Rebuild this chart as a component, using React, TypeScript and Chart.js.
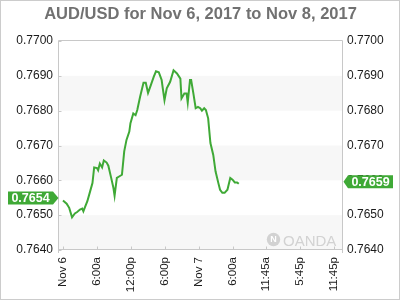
import React, { useEffect, useRef } from "react";
import { Chart, registerables } from "chart.js";

Chart.register(...registerables);

const titleText = "AUD/USD for Nov 6, 2017 to Nov 8, 2017";

// hours since Nov 6 00:00
const hours = [
  0, 0.65, 1.1, 1.6, 2.1, 2.5, 3.0, 3.4, 3.6, 3.9,
  4.3, 4.8, 5.2, 5.5, 6.0, 6.2, 6.5, 6.9, 7.2, 7.7,
  8.0, 8.5, 8.9, 9.1, 9.5, 9.9, 10.4, 10.8, 11.2, 11.7,
  11.9, 12.4, 12.8, 13.1, 13.6, 14.2, 14.6, 15.0, 15.4, 16.0,
  16.4, 16.9, 17.4, 17.6, 17.9, 18.3, 18.9, 19.5, 20.1, 20.7,
  20.9, 21.4, 21.8, 22.0, 22.4, 22.6, 23.0, 23.4, 23.8, 24.2,
  24.5, 24.9, 25.2, 25.6, 26.0, 26.5, 26.9, 27.4, 27.7, 28.1,
  28.5, 29.0, 29.5, 29.9, 30.3, 30.7, 31.0,
];

const rates = [
  0.76542, 0.76533, 0.76521, 0.76494, 0.76505, 0.76509, 0.76516, 0.76519, 0.76511, 0.76524,
  0.7654, 0.76569, 0.76592, 0.76637, 0.76635, 0.76629, 0.76648, 0.76637, 0.76657, 0.76651,
  0.76642, 0.76607, 0.76578, 0.76556, 0.76607, 0.76611, 0.76616, 0.76683, 0.76716, 0.7674,
  0.76764, 0.76792, 0.76787, 0.76802, 0.7684, 0.7688, 0.7688, 0.76851, 0.76869, 0.76897,
  0.76913, 0.7691, 0.76888, 0.76864, 0.7683, 0.76864, 0.76883, 0.76916, 0.76907, 0.76892,
  0.76835, 0.76849, 0.76849, 0.76823, 0.76888, 0.76888, 0.76849, 0.76807, 0.76811, 0.76807,
  0.768, 0.76807, 0.76802, 0.76778, 0.76707, 0.76673, 0.76626, 0.76592, 0.76573, 0.76564,
  0.76564, 0.76573, 0.76607, 0.76602, 0.76594, 0.76594, 0.7659,
];

const xTickHours = [0, 6, 12, 18, 24, 30, 35.75, 41.75, 47.75];
const xTickLabels = ["Nov 6", "6:00a", "12:00p", "6:00p", "Nov 7", "6:00a", "11:45a", "5:45p", "11:45p"];
const yTicks = [0.764, 0.765, 0.766, 0.767, 0.768, 0.769, 0.77];
const bandLows = [0.768, 0.766, 0.764];
const bandStep = 0.001;
const xMin = -0.7;
const xMax = 49.2;
const yMin = 0.764;
const yMax = 0.77;

const FONT = '"Liberation Sans", Arial, sans-serif';
const GREEN = "#3fa936";

function drawTag(ctx: CanvasRenderingContext2D, text: string, boxL: number, boxR: number, tipX: number, cy: number) {
  const h = 13;
  ctx.fillStyle = GREEN;
  ctx.beginPath();
  if (tipX > boxR) {
    ctx.moveTo(boxL, cy - h / 2);
    ctx.lineTo(boxR, cy - h / 2);
    ctx.lineTo(tipX, cy);
    ctx.lineTo(boxR, cy + h / 2);
    ctx.lineTo(boxL, cy + h / 2);
  } else {
    ctx.moveTo(boxR, cy - h / 2);
    ctx.lineTo(boxL, cy - h / 2);
    ctx.lineTo(tipX, cy);
    ctx.lineTo(boxL, cy + h / 2);
    ctx.lineTo(boxR, cy + h / 2);
  }
  ctx.closePath();
  ctx.fill();
  ctx.fillStyle = "#ffffff";
  ctx.font = `bold 12.5px ${FONT}`;
  ctx.textAlign = "center";
  ctx.textBaseline = "middle";
  ctx.fillText(text, (boxL + boxR) / 2, cy + 0.5);
}

const decor = {
  id: "decor",
  beforeDatasetsDraw(chart: any) {
    const { ctx, chartArea: a, scales } = chart;
    const y = scales.y;
    const x = scales.x;
    ctx.save();
    ctx.fillStyle = "#f7f7f7";
    bandLows.forEach((lo) => {
      const t = y.getPixelForValue(lo + bandStep);
      const b = y.getPixelForValue(lo);
      ctx.fillRect(a.left, t, a.right - a.left, b - t);
    });
    ctx.strokeStyle = "#c8c8c8";
    ctx.lineWidth = 1;
    ctx.beginPath();
    ctx.moveTo(a.left - 0.5, a.top - 0.5);
    ctx.lineTo(a.right + 0.5, a.top - 0.5);
    ctx.moveTo(a.left - 0.5, a.top - 0.5);
    ctx.lineTo(a.left - 0.5, a.bottom + 3);
    ctx.moveTo(a.right + 0.5, a.top - 0.5);
    ctx.lineTo(a.right + 0.5, a.bottom + 3);
    ctx.moveTo(a.left - 0.5, a.bottom - 0.5);
    ctx.lineTo(a.right + 0.5, a.bottom - 0.5);
    xTickHours.forEach((v) => {
      const px = Math.round(x.getPixelForValue(v)) + 0.5;
      ctx.moveTo(px, a.bottom - 0.5);
      ctx.lineTo(px, a.bottom - 3.5);
    });
    yTicks.forEach((v) => {
      const py = Math.round(y.getPixelForValue(v)) + 0.5;
      ctx.moveTo(a.left - 0.5, py);
      ctx.lineTo(a.left + 2.5, py);
    });
    ctx.stroke();

    // watermark
    ctx.fillStyle = "#d2d2d2";
    ctx.beginPath();
    ctx.arc(273.5, 239.5, 6.7, 0, Math.PI * 2);
    ctx.fill();
    ctx.fillStyle = "#ffffff";
    ctx.font = `bold 9px ${FONT}`;
    ctx.textAlign = "center";
    ctx.textBaseline = "middle";
    ctx.fillText("N", 273.5, 240);
    ctx.fillStyle = "#d2d2d2";
    ctx.font = `15px ${FONT}`;
    ctx.textAlign = "left";
    ctx.textBaseline = "alphabetic";
    ctx.fillText("OANDA", 283, 245.5);
    ctx.restore();
  },
  afterDraw(chart: any) {
    const { ctx, scales } = chart;
    const y = scales.y;
    ctx.save();
    ctx.fillStyle = "#717171";
    ctx.font = `bold 16.5px ${FONT}`;
    ctx.textAlign = "center";
    ctx.textBaseline = "alphabetic";
    ctx.fillText(titleText, 200.5, 18.5);

    const first = rates[0];
    const last = rates[rates.length - 1];
    drawTag(ctx, first.toFixed(4), 8, 53, 58.5, y.getPixelForValue(first) - 2.5);
    drawTag(ctx, last.toFixed(4), 348, 393, 343.5, y.getPixelForValue(last) - 2);

    ctx.strokeStyle = "#cccccc";
    ctx.lineWidth = 1;
    ctx.strokeRect(0.5, 0.5, 399, 299);
    ctx.restore();
  },
};

export default function App() {
  const ref = useRef<HTMLCanvasElement | null>(null);
  useEffect(() => {
    if (!ref.current) return;
    Chart.defaults.font.family = FONT;
    const tickFont = { family: FONT, size: 12 };
    const yCommon = {
      type: "linear" as const,
      min: yMin,
      max: yMax,
      grid: { display: false, drawTicks: false },
      border: { display: false },
      afterBuildTicks: (s: any) => {
        s.ticks = yTicks.map((v) => ({ value: v }));
      },
    };
    const chart = new Chart(ref.current, {
      type: "line",
      data: {
        datasets: [
          {
            data: hours.map((h, i) => ({ x: h, y: rates[i] })),
            borderColor: GREEN,
            borderWidth: 2,
            pointRadius: 0,
            tension: 0,
            fill: false,
            yAxisID: "y",
          },
        ],
      },
      options: {
        responsive: false,
        animation: false,
        devicePixelRatio: 1,
        layout: { padding: { top: 41, left: 0, right: 0, bottom: 0 } },
        plugins: {
          legend: { display: false },
          title: { display: false },
          tooltip: { enabled: false },
        },
        scales: {
          x: {
            type: "linear",
            min: xMin,
            max: xMax,
            grid: { display: false, drawTicks: false },
            border: { display: false },
            afterBuildTicks: (s: any) => {
              s.ticks = xTickHours.map((v) => ({ value: v }));
            },
            ticks: {
              autoSkip: false,
              minRotation: 90,
              maxRotation: 90,
              padding: 7,
              color: "#1a1a1a",
              font: { family: FONT, size: 11.5 },
              callback: (v: any) => {
                const i = xTickHours.indexOf(Number(v));
                return i >= 0 ? xTickLabels[i] : "";
              },
            },
            afterFit: (s: any) => {
              s.height = 50;
            },
          },
          y: {
            ...yCommon,
            position: "left",
            ticks: { padding: 6, color: "#1a1a1a", font: tickFont, callback: (v: any) => Number(v).toFixed(4) },
            afterFit: (s: any) => {
              s.width = 59;
            },
          },
          y1: {
            ...yCommon,
            position: "right",
            ticks: { padding: 5, color: "#1a1a1a", font: tickFont, callback: (v: any) => Number(v).toFixed(4) },
            afterFit: (s: any) => {
              s.width = 58;
            },
          },
        },
      } as any,
      plugins: [decor],
    });
    return () => chart.destroy();
  }, []);
  return (
    <div style={{ position: "absolute", left: 0, top: 0, width: 400, height: 300, background: "#fff" }}>
      <canvas ref={ref} width={400} height={300} style={{ display: "block", width: 400, height: 300 }} />
    </div>
  );
}
